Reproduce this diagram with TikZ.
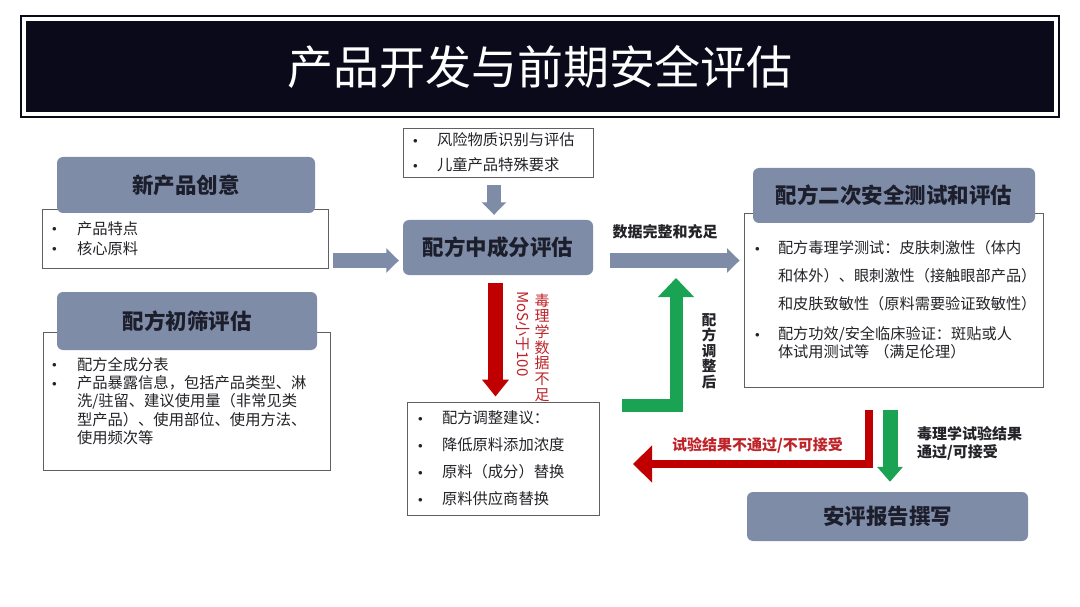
\documentclass[tikz,border=0pt]{standalone}
\usepackage{fontspec}
\setmainfont{Noto Sans CJK SC}
\usetikzlibrary{arrows.meta}
\definecolor{titlefill}{RGB}{10,10,26}
\definecolor{headgray}{RGB}{127,140,168}
\definecolor{headtext}{RGB}{28,30,44}
\definecolor{boxline}{RGB}{95,95,100}
\definecolor{bodytext}{RGB}{35,35,40}
\definecolor{arrowred}{RGB}{192,0,0}
\definecolor{labelred}{RGB}{190,35,40}
\definecolor{arrowgreen}{RGB}{26,163,83}
\newcommand{\itm}[2][24pt]{\makebox[#1][l]{\raisebox{2.5pt}{\small$\bullet$}}#2}
\newcommand{\cnt}[1][24pt]{\hspace*{#1}}

\begin{document}
\begin{tikzpicture}[x=1pt, y=-1pt,
		headbox/.style={rounded corners=6pt, fill=headgray, text=headtext, inner sep=0pt,
			font=\fontsize{21.5}{21.5}\selectfont\bfseries},
		bodybox/.style={draw=boxline, line width=0.9pt, fill=white, text=bodytext, align=left,
			inner ysep=0pt, font=\fontsize{15.3}{18.3}\selectfont},
		grayarrow/.style={draw=headgray, line width=14.5pt, -{Triangle[length=12.5pt,width=24pt]}},
		redarrow/.style={draw=arrowred, line width=#1, line join=miter},
		greenarrow/.style={draw=arrowgreen, line width=#1, line join=miter},
		note/.style={font=\fontsize{15}{18}\selectfont\bfseries, text=bodytext, inner sep=0pt},
	]
	\fill[white] (0,0) rectangle (1080,607);
	\useasboundingbox (0,0) rectangle (1080,607);
	
	% title bar
	\node[fill=titlefill, minimum width=1028pt, minimum height=91pt, text=white,
		font=\fontsize{46}{46}\selectfont] (title) at (540,66.5) {产品开发与前期安全评估};
	\draw[line width=2pt, draw=titlefill] ([shift={(-5pt,5pt)}]title.north west) rectangle ([shift={(5pt,-5pt)}]title.south east);
	
	% left column
	\node[bodybox, minimum width=286pt, minimum height=59pt, text width=266pt, inner xsep=10pt,
		font=\fontsize{15.3}{20}\selectfont] (ideabody) at (185,238.5)
		{\itm[25pt]{产品特点}\\\itm[25pt]{核心原料}};
	\node[headbox, minimum width=258pt, minimum height=56pt] (idea) at (186,185) {新产品创意};
	
	\node[bodybox, minimum width=287pt, minimum height=138pt, text width=269pt, inner xsep=9pt] (screenbody) at (186.5,401)
		{\itm[25pt]{配方全成分表}\\
		\itm[25pt]{产品暴露信息，包括产品类型、淋}\\
		\cnt[25pt]洗/驻留、建议使用量（非常见类\\
		\cnt[25pt]型产品）、使用部位、使用方法、\\
		\cnt[25pt]使用频次等};
	\node[headbox, minimum width=260pt, minimum height=58pt] (screen) at (187,321) {配方初筛评估};
	
	% middle column
	\node[bodybox, minimum width=190pt, minimum height=49pt, text width=170pt, inner xsep=10pt,
		font=\fontsize{15.3}{25}\selectfont] (risk) at (498,152.5)
		{\itm{风险物质识别与评估}\\\itm{儿童产品特殊要求}};
	\node[headbox, minimum width=190pt, minimum height=55pt] (assess) at (498,247.5) {配方中成分评估};
	\node[bodybox, minimum width=192pt, minimum height=113pt, text width=170pt, inner xsep=11pt,
		font=\fontsize{15.3}{27}\selectfont] (adjust) at (503,458.5)
		{\itm{配方调整建议：}\\
		\itm{降低原料添加浓度}\\
		\itm{原料（成分）替换}\\
		\itm{原料供应商替换}};
	
	% right column
	\node[bodybox, minimum width=299pt, minimum height=174pt, text width=277pt, inner xsep=11pt,
		font=\fontsize{15.2}{18}\selectfont] (retestbody) at (893.5,300)
		{\itm[23pt]{配方毒理学测试：皮肤刺激性（体内}\\[10pt]
		\cnt[23pt]和体外）、眼刺激性（接触眼部产品）\\[10pt]
		\cnt[23pt]和皮肤致敏性（原料需要验证致敏性）\\[12pt]
		\itm[23pt]{配方功效/安全临床验证：斑贴或人}\\
		\cnt[23pt]体试用测试等 （满足伦理）};
	\node[headbox, minimum width=282pt, minimum height=55pt] (retest) at (894,195.5) {配方二次安全测试和评估};
	\node[headbox, minimum width=281pt, minimum height=49pt] (report) at (887.5,516.5) {安评报告撰写};
	
	% arrows
	\coordinate (flowline) at (0,260.5);
	\draw[grayarrow, shorten <=5pt, shorten >=4pt] (ideabody.east |- flowline) -- (assess.west |- flowline);
	\draw[grayarrow, shorten <=17pt, shorten >=4pt] (assess.east |- flowline) -- (retestbody.west |- flowline);
	\draw[grayarrow, shorten <=8pt, shorten >=5pt] ([xshift=-4pt]risk.south) -- ([xshift=-4pt]assess.north);
	
	\draw[redarrow=15pt, -{Triangle[length=17pt,width=26pt]}, shorten <=8pt, shorten >=5pt]
		([xshift=-2.5pt]assess.south) -- ([xshift=-2.5pt]assess.south |- adjust.north);
	
	\coordinate (greenstart) at (622,405);
	\coordinate (greentip) at (676,278);
	\draw[greenarrow=13pt, -{Triangle[length=19pt,width=35pt]}] (greenstart) -| (greentip);
	
	\draw[greenarrow=15pt, -{Triangle[length=15pt,width=25pt]}, shorten <=23pt, shorten >=10pt]
		([xshift=-3.5pt]retestbody.south) -- ([xshift=-3.5pt]retestbody.south |- report.north);
	
	\coordinate (redtip) at (633,464);
	\draw[redarrow=8pt, -{Triangle[length=19pt,width=36pt]}, shorten <=23pt]
		([xshift=-25pt]retestbody.south) |- (redtip);
	
	% labels
	\node[note] (fulldata) at (665,232) {数据完整和充足};
	\node[note, align=center, font=\fontsize{14.5}{15.4}\selectfont\bfseries] (adjusted) at (709,351) {配\\方\\调\\整\\后};
	\node[note, text=labelred, align=center, font=\fontsize{15}{15.7}\selectfont] (lackdata) at (542,347.5) {毒\\理\\学\\数\\据\\不\\足};
	\node[note, text=labelred, rotate=-90, font=\fontsize{15}{15}\selectfont] (mos) at (523,334) {MoS小于100};
	\node[note, text=labelred] (fail) at (757.5,445) {试验结果不通过/不可接受};
	\node[note, align=left, anchor=west] (pass) at (917,443) {毒理学试验结果\\通过/可接受};
\end{tikzpicture}
\end{document}
